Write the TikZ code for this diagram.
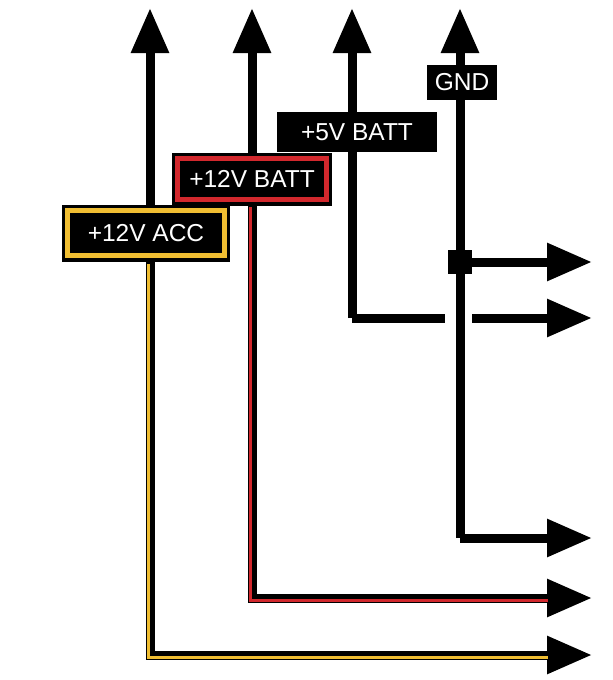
\documentclass[tikz,border=0pt]{standalone}
\usepackage{fontspec}
\setmainfont{Liberation Sans}
\usetikzlibrary{arrows.meta}
\definecolor{accyel}{RGB}{240,190,50}
\definecolor{battred}{RGB}{210,40,45}
\tikzset{
	wire/.style={line width=9pt, black},
	tip/.style={-{Triangle[length=45pt,width=36pt]}},
	stripe/.style={line width=3pt},
	tag/.style={fill=black, text=white, inner sep=0pt, font=\fontsize{24.5}{24.5}\selectfont},
}
\begin{document}
\begin{tikzpicture}[x=1pt, y=-1pt]
	\useasboundingbox (0,0) rectangle (613,680);
	% ends of the wires
	\coordinate (accTop) at (150,8);
	\coordinate (battTop) at (252,8);
	\coordinate (fiveTop) at (352,8);
	\coordinate (gndTop) at (460,8);
	\coordinate (accOut) at (592,655);
	\coordinate (battOut) at (592,598);
	\coordinate (gndOut) at (592,538);
	\coordinate (fiveOut) at (592,318);
	\coordinate (jOut) at (592,262);
	\coordinate (gndLow) at (460,538);
	% vertical risers
	\draw[wire, tip] (150,230) -- (accTop);
	\draw[wire, tip] (252,180) -- (battTop);
	\draw[wire, tip] (352,318) -- (fiveTop);
	\draw[wire, tip] (gndLow) -- (gndTop);
	% outgoing runs
	\draw[wire, tip] (150,230) -- (150,655) -- (accOut);
	\draw[accyel, stripe, shift={(-2,2)}] (150,262) -- (150,655) -- (550,655);
	\draw[wire, tip] (252,180) -- (252,598) -- (battOut);
	\draw[battred, stripe, shift={(-2,2)}] (252,205) -- (252,598) -- (550,598);
	\draw[wire, tip] (gndLow) -- (gndOut);
	\draw[wire] (352,318) -- (445,318);
	\draw[wire, tip] (472,318) -- (fiveOut);
	% junction
	\node[fill=black, minimum size=24pt, inner sep=0pt] (junc) at (460,262) {};
	\draw[wire, tip] (junc.center) -- (jOut);
	% labels
	\node[tag, minimum width=168pt, minimum height=57pt] (acc) at (146,233) {+12V ACC};
	\draw[accyel, line width=5pt] ([shift={(6,-6)}]acc.south west) rectangle ([shift={(-6,6)}]acc.north east);
	\node[tag, minimum width=160pt, minimum height=53pt] (batt) at (252,179) {+12V BATT};
	\draw[battred, line width=5pt] ([shift={(6,-6)}]batt.south west) rectangle ([shift={(-6,6)}]batt.north east);
	\node[tag, minimum width=160pt, minimum height=40pt] (five) at (357,132) {+5V BATT};
	\node[tag, minimum width=70pt, minimum height=35pt] (gnd) at (462,82) {GND};
\end{tikzpicture}
\end{document}
